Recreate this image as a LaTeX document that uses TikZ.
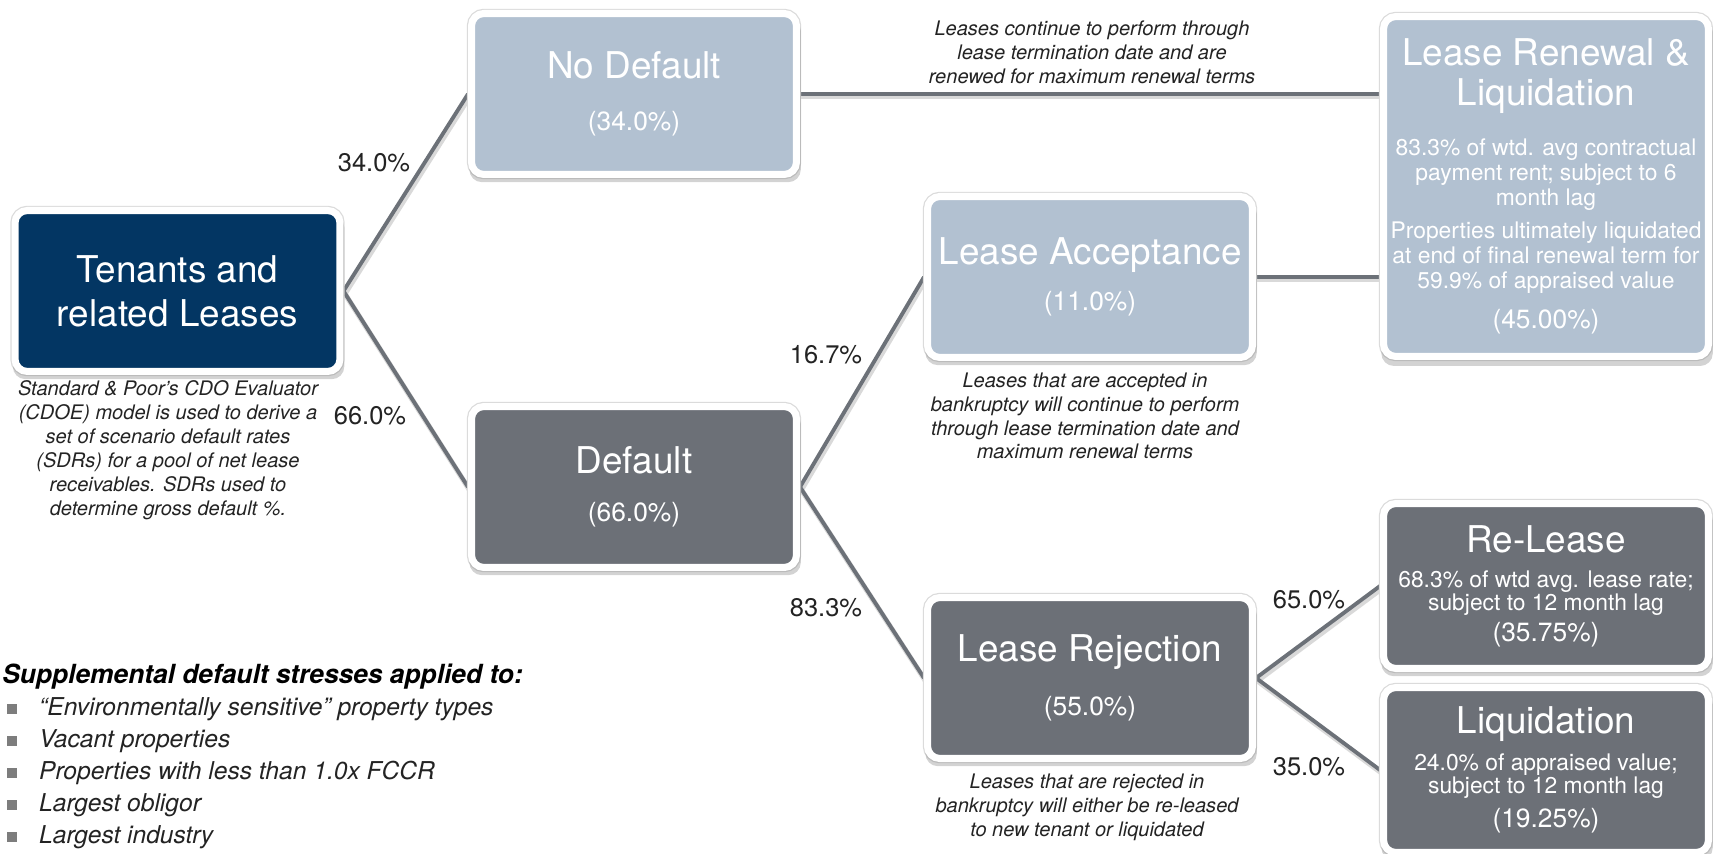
\documentclass[tikz,border=0pt]{standalone}
\usepackage{fontspec}
\setmainfont{TeX Gyre Heros}
\usetikzlibrary{shadows,backgrounds}

\definecolor{navy}{RGB}{3,54,99}
\definecolor{paleblue}{RGB}{178,193,209}
\definecolor{slate}{RGB}{108,112,119}
\definecolor{linkgray}{RGB}{108,113,120}
\definecolor{txtgray}{RGB}{35,35,35}
\definecolor{bulgray}{RGB}{125,125,125}

\newcommand\boxfont{\fontsize{21}{0}\selectfont\lineskiplimit=-\maxdimen\lineskip=0pt\relax}
\newcommand\pctfont{\fontsize{15}{18}\selectfont}
\newcommand\bodyfont{\fontsize{13}{15}\selectfont}
\newcommand\notefont{\fontsize{11.4}{13.6}\selectfont\itshape}
\newcommand\sqb{\hspace*{2pt}\textcolor{bulgray}{\rule[0.8pt]{6pt}{6pt}}\hspace{12.4pt}}

\begin{document}
\begin{tikzpicture}[x=0.02cm, y=-0.02cm,
    box/.style={rounded corners=7pt, draw=white, line width=4pt, minimum width=6.5cm,
      minimum height=3.22cm, inner sep=2pt, align=center, text=white, font=\boxfont,
      preaction={draw=black!14, line width=5.4pt},
      drop shadow={shadow xshift=0.6pt, shadow yshift=-3.4pt, shadow scale=1.02, opacity=0.35}},
    link/.style={linkgray, line width=2.2pt,
      preaction={draw=black!15, line width=3pt, transform canvas={shift={(0.8pt,-1.6pt)}}}},
    pct/.style={text=txtgray, font=\fontsize{14.5}{17}\selectfont, inner sep=0pt},
    note/.style={text=txtgray, font=\notefont, align=center, inner sep=0pt}]
  \useasboundingbox (0,0) rectangle (1713,854);

  \node[box, fill=navy] (tenants) at (177.5,291) {Tenants and\\[25pt]related Leases};
  \node[box, fill=paleblue] (nodef) at (634,94) {No Default\\[29.3pt]{\pctfont (34.0\%)}};
  \node[box, fill=slate] (deflt) at (634,487) {Default\\[27pt]{\pctfont (66.0\%)}};
  \node[box, fill=paleblue] (accept) at (1090,277) {Lease Acceptance\\[26.5pt]{\pctfont (11.0\%)}};
  \node[box, fill=slate] (reject) at (1090,678) {Lease Rejection\\[30.4pt]{\pctfont (55.0\%)}};
  \node[box, fill=paleblue, minimum height=6.8cm] (renew) at (1546,186.5)
    {Lease Renewal \&\\[22.8pt]Liquidation\\[28.5pt]
     {\bodyfont 83.3\% of wtd. avg contractual}\\[14.2pt]
     {\bodyfont payment rent; subject to 6}\\[14.2pt]
     {\bodyfont month lag}\\[18.8pt]
     {\bodyfont Properties ultimately liquidated}\\[14.2pt]
     {\bodyfont at end of final renewal term for}\\[14.2pt]
     {\bodyfont 59.9\% of appraised value}\\[23pt]
     {\pctfont (45.00\%)}};
  \node[box, fill=slate, minimum height=3.3cm] (release) at (1546,586)
    {Re-Lease\\[20pt]
     {\bodyfont 68.3\% of wtd avg. lease rate;}\\[13.1pt]
     {\bodyfont subject to 12 month lag}\\[17.5pt]
     {\pctfont (35.75\%)}};
  \node[box, fill=slate, minimum height=3.3cm] (liquid) at (1546,770)
    {Liquidation\\[21pt]
     {\bodyfont 24.0\% of appraised value;}\\[13.1pt]
     {\bodyfont subject to 12 month lag}\\[19.6pt]
     {\pctfont (19.25\%)}};

  \begin{pgfonlayer}{background}
    \draw[link] (tenants.east) -- (nodef.west);
    \draw[link] (tenants.east) -- (deflt.west);
    \draw[link] (nodef.east) -- (nodef.east -| renew.west);
    \draw[link] (deflt.east) -- (accept.west);
    \draw[link] (deflt.east) -- (reject.west);
    \draw[link] (accept.east) -- (accept.east -| renew.west);
    \draw[link] (reject.east) -- (release.west);
    \draw[link] (reject.east) -- (liquid.west);
  \end{pgfonlayer}

  \node[pct] (p34) at (374,163) {34.0\%};
  \node[pct] (p66) at (370,416) {66.0\%};
  \node[pct] (p167) at (826,355) {16.7\%};
  \node[pct] (p833) at (826,608) {83.3\%};
  \node[pct] (p65) at (1309,600) {65.0\%};
  \node[pct] (p35) at (1309,767) {35.0\%};

  \node[note] (tenantsnote) at (168,450) {Standard \& Poor's CDO Evaluator\\(CDOE) model is used to derive a\\set of scenario default rates\\(SDRs) for a pool of net lease\\receivables. SDRs used to\\determine gross default \%.};
  \node[note] (nodefnote) at (1092,52) {Leases continue to perform through\\lease termination date and are\\renewed for maximum renewal terms};
  \node[note] (acceptnote) at (1085,416) {Leases that are accepted in\\bankruptcy will continue to perform\\through lease termination date and\\maximum renewal terms};
  \node[note] (rejectnote) at (1087,807) {Leases that are rejected in\\bankruptcy will either be re-leased\\to new tenant or liquidated};

  \node[anchor=west, inner sep=0pt, font=\fontsize{15}{18}\selectfont\bfseries\itshape] (supp) at (2,677)
    {Supplemental default stresses applied to:};
  \node[anchor=west, inner sep=0pt, align=left, text=txtgray, font=\fontsize{14}{18.2}\selectfont\itshape] (stresses) at (3,773.5)
    {\sqb ``Environmentally sensitive'' property types\\
     \sqb Vacant properties\\
     \sqb Properties with less than 1.0x FCCR\\
     \sqb Largest obligor\\
     \sqb Largest industry};
\end{tikzpicture}
\end{document}
